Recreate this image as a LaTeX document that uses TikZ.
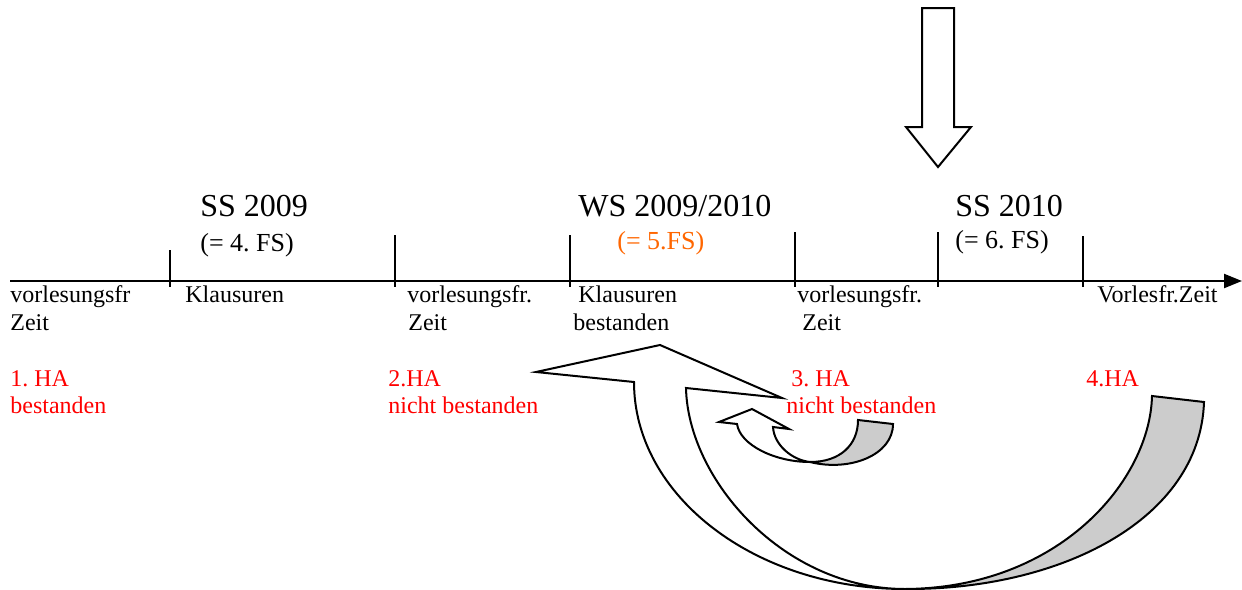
\documentclass[tikz,border=0pt]{standalone}
\usepackage{fontspec}
\setmainfont{Liberation Serif}
\usepackage{xcolor}
\usetikzlibrary{positioning,arrows.meta}
\definecolor{fsorange}{RGB}{255,102,0}
\frenchspacing

\begin{document}
\begin{tikzpicture}[x=0.5pt,y=-0.5pt,
    txt/.style={anchor=base west,inner sep=0pt,font=\fontsize{12}{14}\selectfont},
    sem/.style={anchor=base west,inner sep=0pt,font=\fontsize{16}{19}\selectfont},
    fs/.style={anchor=base west,inner sep=0pt,font=\fontsize{13}{15}\selectfont},
    ha/.style={txt,text=red},
    band/.style={draw,line width=1pt,line join=miter},
    >={Triangle[length=9pt,width=7pt]}]

  \useasboundingbox (0,0) rectangle (1242,589);

  % time axis with ticks
  \coordinate (t0) at (10,281);
  \coordinate (t1) at (1242,281);
  \draw[line width=1.1pt,->] (t0) -- (t1);
  \foreach \x/\y/\n in {170/250/1,395/235/2,570/235/3,795/232/4,938/232/5,1083/236/6}
    \draw[line width=0.9pt] (\x,\y) coordinate (k\n) -- (\x,287);

  % semesters
  \node[sem] (s1) at (200,216) {SS 2009};
  \node[fs] (f1) at (200,251) {(= 4. FS)};
  \node[sem] (s2) at (578,216) {WS 2009/2010};
  \node[fs,text=fsorange] (f2) at (617,249) {(= 5.FS)};
  \node[sem] (s3) at (955,216) {SS 2010};
  \node[fs] (f3) at (955,248) {(= 6. FS)};

  % periods
  \node[txt] (p1) at (10,302) {vorlesungsfr};
  \node[txt] (p1b) at (10,330) {Zeit};
  \node[txt] (p2) at (185,302) {Klausuren};
  \node[txt] (p3) at (407,302) {vorlesungsfr.};
  \node[txt] (p3b) at (408,330) {Zeit};
  \node[txt] (p4) at (578,302) {Klausuren};
  \node[txt] (p4b) at (573,330) {bestanden};
  \node[txt] (p5) at (797,302) {vorlesungsfr.};
  \node[txt] (p5b) at (802,330) {Zeit};
  \node[txt] (p6) at (1097,302) {Vorlesfr.Zeit};

  % Hausarbeiten
  \node[ha] (h1) at (10,386) {1. HA};
  \node[ha] (h1b) at (10,413) {bestanden};
  \node[ha] (h2) at (388,386) {2.HA};
  \node[ha] (h2b) at (388,413) {nicht bestanden};
  \node[ha] (h3) at (791,386) {3. HA};
  \node[ha] (h3b) at (786,413) {nicht bestanden};
  \node[ha] (h4) at (1086,386) {4.HA};

  % block arrow from the top
  \draw[band,fill=white] (922,8) -- (954,8) -- (954,127) -- (971,127) -- (938,167)
    -- (906,127) -- (922,127) -- cycle;

  % big curved arrow
  \draw[band,fill=black!20] (905,589) .. controls (1060,590) and (1200,520) .. (1204,402)
    -- (1152,396) .. controls (1150,480) and (1060,588) .. (905,589) -- cycle;
  \draw[band,fill=white] (634,382) .. controls (634,496) and (755,589) .. (905,589)
    .. controls (784,589) and (688,480) .. (686,388) -- (782,398) -- (660,345)
    -- (536,372) -- cycle;

  % small curved arrow
  \draw[band,fill=black!20] (810,462) .. controls (850,472) and (893,455) .. (893,424)
    -- (858,420) .. controls (858,445) and (840,462) .. (810,462) -- cycle;
  \draw[band,fill=white] (737,424) .. controls (740,445) and (775,462) .. (810,462)
    .. controls (792,460) and (774,445) .. (773,427) -- (789,429) -- (752,409)
    -- (719,422) -- cycle;
\end{tikzpicture}
\end{document}
